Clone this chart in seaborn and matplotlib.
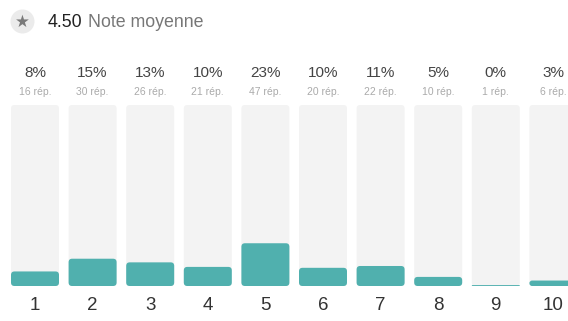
import numpy as np
import pandas as pd
import seaborn as sns
import matplotlib
matplotlib.use("Agg")
import matplotlib.pyplot as plt
from matplotlib.patches import FancyBboxPatch, Circle
from matplotlib.transforms import IdentityTransform, blended_transform_factory

# Rating distribution (scores 1..10) and number of responses per score
scores = ["1", "2", "3", "4", "5", "6", "7", "8", "9", "10"]
responses = [16, 30, 26, 21, 47, 20, 22, 10, 1, 6]
average_score = "4.50"
average_label = "Note moyenne"

total = sum(responses)
shares = [100.0 * r / total for r in responses]
pct_labels = [f"{int(np.floor(s))}%" for s in shares]
resp_labels = [f"{r} rép." for r in responses]

df = pd.DataFrame({"score": scores, "share": shares, "full": [100.0] * len(scores)})

sns.set_theme(style="white")
plt.rcParams["font.family"] = ["Liberation Sans", "DejaVu Sans"]

W, H = 568, 321
fig = plt.figure(figsize=(W / 100, H / 100), dpi=100)
fig.patch.set_facecolor("white")

pitch = 57.6
first_center = 35.0
bar_w = 48.0 / pitch
bottom_px, top_px = 286.0, 105.0

ax = fig.add_axes([0, (H - bottom_px) / H, 1, (bottom_px - top_px) / H])
sns.barplot(data=df, x="score", y="full", color="#f3f3f3", width=bar_w,
            saturation=1, ax=ax, zorder=1)
sns.barplot(data=df, x="score", y="share", color="#50b0ae", width=bar_w,
            saturation=1, ax=ax, zorder=2)
ax.set_xlim(-first_center / pitch, (W - first_center) / pitch)
ax.set_ylim(0, 100)
ax.axis("off")

# round the bar corners
px_x = pitch
px_y = (bottom_px - top_px) / 100.0
radius = 3.5
for p in list(ax.patches):
    x, y = p.get_x(), p.get_y()
    w, h = p.get_width(), p.get_height()
    r = min(radius, h * px_y / 2) / px_x
    fb = FancyBboxPatch((x, y), w, h,
                        boxstyle=f"round,pad=0,rounding_size={r}",
                        mutation_aspect=px_x / px_y,
                        facecolor=p.get_facecolor(), edgecolor="none",
                        zorder=p.get_zorder())
    p.remove()
    ax.add_patch(fb)

# labels above and below each column
for i in range(len(scores)):
    ax.text(i, 100 + (105 - 73) / px_y, pct_labels[i], ha="center", va="center",
            fontsize=11, color="#444444")
    ax.text(i, 100 + (105 - 92) / px_y, resp_labels[i], ha="center", va="center",
            fontsize=7.5, color="#aaaaaa")
    ax.text(i, -(305 - 286) / px_y, scores[i], ha="center", va="center",
            fontsize=13.5, color="#333333")

# header: star badge and average score
hdr = fig.add_axes([0, 0, 1, 1], facecolor="none")
hdr.set_xlim(0, W)
hdr.set_ylim(H, 0)
hdr.axis("off")
hdr.add_patch(Circle((22.5, 21.5), 12, facecolor="#ebebeb", edgecolor="none"))
hdr.text(22.5, 22, "★", ha="center", va="center", fontsize=12,
         color="#7a7a7a", family=["DejaVu Sans"])
t = hdr.text(47.5, 27, average_score, ha="left", va="baseline", fontsize=12.8,
             color="#222222")
fig.canvas.draw()
x_end = t.get_window_extent().x1
hdr.text(x_end + 6, 27, average_label, ha="left", va="baseline",
         fontsize=12.8, color="#777777",
         transform=blended_transform_factory(IdentityTransform(), hdr.transData))

fig.savefig("out.png", dpi=100)
